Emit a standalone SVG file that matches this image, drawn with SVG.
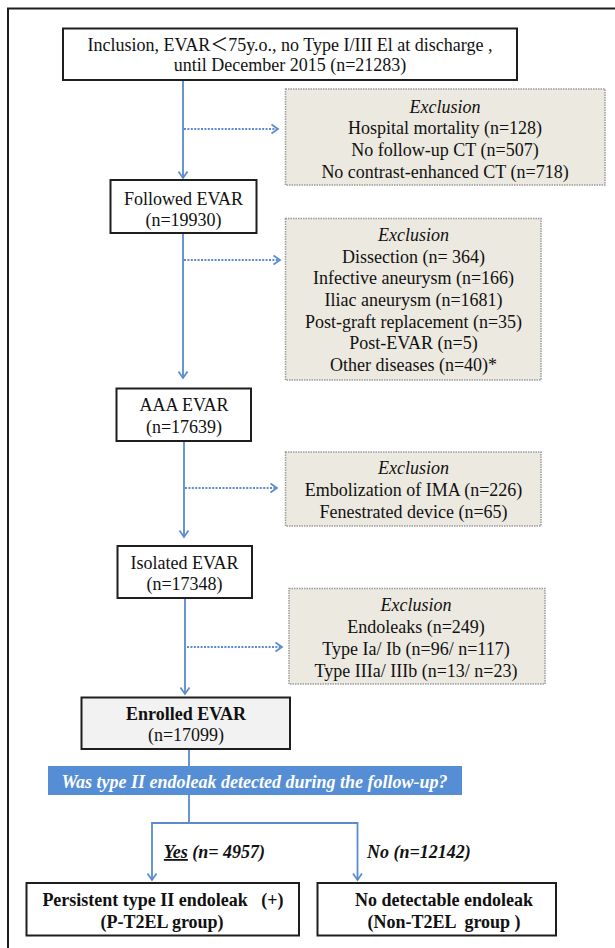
<svg xmlns="http://www.w3.org/2000/svg" width="615" height="948" viewBox="0 0 615 948">
<defs>
<style>
text{font-family:"Liberation Serif","Noto Sans CJK JP",serif;font-size:18px;fill:#111;text-anchor:middle}
.box{fill:#fff;stroke:#1e1e1e;stroke-width:2}
.exc{fill:#ecE9e0;stroke:#9a9a9a;stroke-width:1.5;stroke-dasharray:1.5 1}
.it{font-style:italic}
.b{font-weight:bold}
.bi{font-weight:bold;font-style:italic}
.ln{fill:none;stroke:#5a8ad0;stroke-width:1.8}
.dt{fill:none;stroke:#5a8ad0;stroke-width:2;stroke-dasharray:2 1.4}
</style>
<marker id="ah" viewBox="-8 -6 10 12" markerWidth="10" markerHeight="12" refX="0" refY="0" orient="auto" markerUnits="userSpaceOnUse">
<path d="M-6.5,-4.5 L0,0 L-6.5,4.5" fill="none" stroke="#5a8ad0" stroke-width="1.7"/>
</marker>
</defs>
<rect width="615" height="948" fill="#fff"/>
<path d="M8,948 V8.5 H615" fill="none" stroke="#1e1e1e" stroke-width="2"/>

<g id="connectors">
<path class="ln" d="M183,80 V178" marker-end="url(#ah)"/>
<path class="dt" d="M184,129 H278" marker-end="url(#ah)"/>
<path class="ln" d="M183,233 V378" marker-end="url(#ah)"/>
<path class="dt" d="M184,260 H280" marker-end="url(#ah)"/>
<path class="ln" d="M184,441 V537" marker-end="url(#ah)"/>
<path class="dt" d="M185,488 H277" marker-end="url(#ah)"/>
<path class="ln" d="M185,598 V694" marker-end="url(#ah)"/>
<path class="dt" d="M187,647 H282" marker-end="url(#ah)"/>
<path class="ln" d="M189,749 V766"/>
<path class="ln" d="M189,795 V823 M152,823 H357.5"/>
<path class="ln" d="M152,822 V880" marker-end="url(#ah)"/>
<path class="ln" d="M357.5,822 V880" marker-end="url(#ah)"/>
</g>

<g id="n-inclusion">
<rect class="box" x="63" y="28.5" width="454" height="51.5"/>
<text x="290" y="50.5">Inclusion, EVAR＜75y.o., no Type I/III El at discharge ,</text>
<text x="290" y="70.5">until December 2015 (n=21283)</text>
</g>

<g id="n-exc1">
<rect class="exc" x="285.5" y="89" width="319.5" height="96"/>
<text class="it" x="445" y="112.5">Exclusion</text>
<text x="445" y="134">Hospital mortality (n=128)</text>
<text x="445" y="156">No follow-up CT (n=507)</text>
<text x="445" y="177.5">No contrast-enhanced CT (n=718)</text>
</g>

<g id="n-followed">
<rect class="box" x="110.5" y="180" width="146" height="53"/>
<text x="183.5" y="204.5">Followed EVAR</text>
<text x="183.5" y="226">(n=19930)</text>
</g>

<g id="n-exc2">
<rect class="exc" x="285.5" y="218.5" width="255.5" height="161.5"/>
<text class="it" x="413.5" y="241">Exclusion</text>
<text x="413.5" y="262.5">Dissection (n= 364)</text>
<text x="413.5" y="284.3">Infective aneurysm (n=166)</text>
<text x="413.5" y="306">Iliac aneurysm (n=1681)</text>
<text x="413.5" y="327.7">Post-graft replacement (n=35)</text>
<text x="413.5" y="349.3">Post-EVAR (n=5)</text>
<text x="413.5" y="371">Other diseases (n=40)*</text>
</g>

<g id="n-aaa">
<rect class="box" x="116.5" y="388.5" width="134.5" height="52.5"/>
<text x="184" y="411">AAA EVAR</text>
<text x="184" y="433">(n=17639)</text>
</g>

<g id="n-exc3">
<rect class="exc" x="285.5" y="452" width="255.5" height="74"/>
<text class="it" x="413.5" y="474.3">Exclusion</text>
<text x="413.5" y="496">Embolization of IMA (n=226)</text>
<text x="413.5" y="517.7">Fenestrated device (n=65)</text>
</g>

<g id="n-isolated">
<rect class="box" x="117.5" y="546" width="134.5" height="52"/>
<text x="184.5" y="568.7">Isolated EVAR</text>
<text x="184.5" y="590.3">(n=17348)</text>
</g>

<g id="n-exc4">
<rect class="exc" x="289" y="588.5" width="256" height="95.5"/>
<text class="it" x="416" y="611">Exclusion</text>
<text x="416" y="632.7">Endoleaks (n=249)</text>
<text x="416" y="655">Type Ia/ Ib (n=96/ n=117)</text>
<text x="416" y="676.7">Type IIIa/ IIIb (n=13/ n=23)</text>
</g>

<g id="n-enrolled">
<rect class="box" x="81.5" y="697.5" width="208.5" height="51.5" style="fill:#f2f2f2"/>
<text class="b" x="186" y="719.5">Enrolled EVAR</text>
<text x="186" y="741">(n=17099)</text>
</g>

<g id="n-question">
<rect x="48" y="766" width="414" height="29" fill="#558ed5"/>
<text class="bi" x="254.5" y="787.5" style="fill:#fff">Was type II endoleak detected during the follow-up?</text>
</g>

<g id="labels">
<text class="bi" x="214.5" y="858"><tspan text-decoration="underline">Yes</tspan> (n= 4957)</text>
<text class="bi" x="419" y="858">No (n=12142)</text>
</g>

<g id="n-pt2el">
<rect class="box" x="26.5" y="883" width="272.5" height="52.5"/>
<text class="b" x="163" y="905.5" xml:space="preserve">Persistent type II endoleak   (+)</text>
<text class="b" x="162" y="928">(P-T2EL group)</text>
</g>

<g id="n-nont2el">
<rect class="box" x="317.5" y="883" width="238.5" height="52.5"/>
<text class="b" x="444" y="905.5">No detectable endoleak</text>
<text class="b" x="444" y="928" xml:space="preserve">(Non-T2EL  group )</text>
</g>
</svg>
